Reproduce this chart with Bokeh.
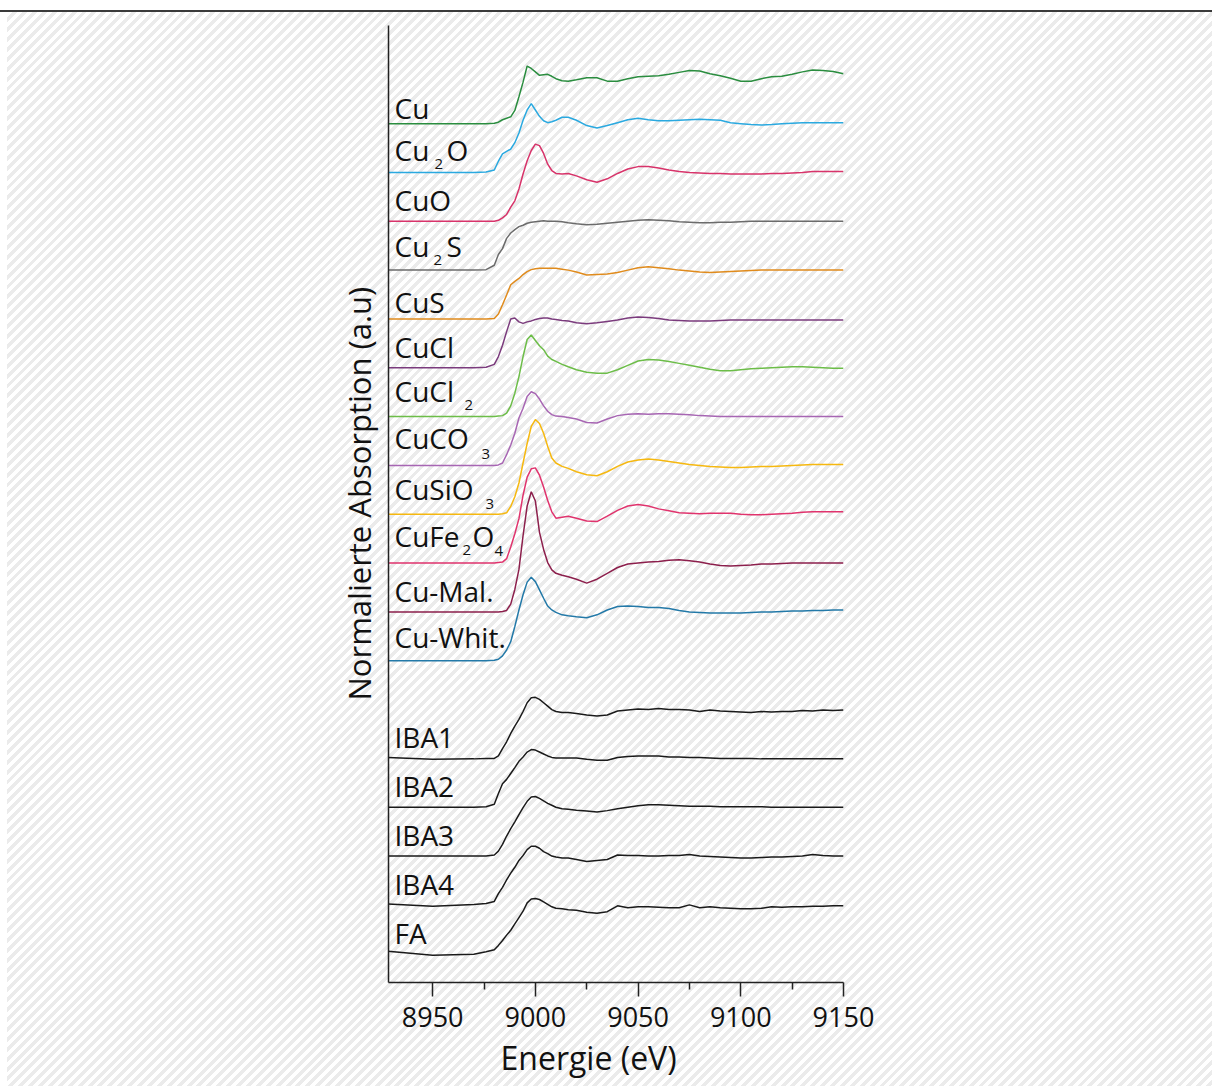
from bokeh.plotting import figure
from bokeh.models import Range1d, FixedTicker, ColumnDataSource, Title
from bokeh.core.properties import value
from bokeh.embed import file_html
from bokeh.resources import INLINE

# ---------------- data (normalised absorption) ----------------
energy = [8928, 8950, 8970, 8976, 8980, 8982, 8984, 8986, 8988, 8990, 8992, 8994, 8996, 8998,
          9000, 9002, 9004, 9006, 9008, 9010, 9013, 9016, 9020, 9025, 9030, 9035, 9040, 9045,
          9050, 9055, 9060, 9065, 9070, 9075, 9080, 9085, 9090, 9095, 9100, 9105, 9110, 9115,
          9120, 9125, 9130, 9135, 9140, 9145, 9150]

cu = [0, 0, 0, 0, 0.01, 0.03, 0.08, 0.11, 0.14, 0.27, 0.55, 0.85, 1.18, 1.13, 1.06, 0.99, 1.00, 1.01, 0.97, 0.92,
      0.88, 0.87, 0.90, 0.94, 0.94, 0.87, 0.87, 0.92, 0.96, 0.97, 0.98, 1.01, 1.05, 1.09, 1.08, 1.02, 0.98, 0.93,
      0.87, 0.87, 0.92, 0.96, 0.97, 1.01, 1.06, 1.10, 1.09, 1.07, 1.02]
cu2o = [0, 0, 0, 0.01, 0.05, 0.23, 0.38, 0.43, 0.48, 0.61, 0.81, 1.07, 1.28, 1.41, 1.28, 1.15, 1.06, 1.02, 1.04, 1.07,
        1.13, 1.13, 1.07, 0.96, 0.91, 0.96, 1.02, 1.08, 1.11, 1.08, 1.06, 1.06, 1.07, 1.08, 1.09, 1.08, 1.07, 1.02,
        1.00, 0.98, 0.97, 0.98, 1.00, 1.01, 1.02, 1.02, 1.02, 1.02, 1.02]
cuo = [0, 0, 0, 0, 0, 0.02, 0.07, 0.14, 0.29, 0.42, 0.66, 0.97, 1.24, 1.45, 1.58, 1.55, 1.39, 1.17, 1.04, 0.98,
       0.97, 0.98, 0.93, 0.85, 0.80, 0.87, 0.98, 1.07, 1.12, 1.12, 1.09, 1.05, 1.02, 1.00, 0.99, 0.98, 0.98, 0.97,
       0.97, 0.97, 0.97, 0.98, 0.98, 0.99, 1.00, 1.02, 1.02, 1.02, 1.02]
cu2s = [0, 0, 0, 0.01, 0.10, 0.32, 0.44, 0.65, 0.76, 0.83, 0.89, 0.92, 0.96, 0.98, 0.99, 1.00, 1.01, 1.00, 1.00, 1.00,
        0.99, 0.97, 0.95, 0.93, 0.94, 0.96, 0.98, 1.00, 1.02, 1.03, 1.02, 1.01, 0.99, 0.98, 0.97, 0.97, 0.98, 0.98,
        0.99, 1.00, 1.00, 1.00, 1.00, 1.00, 1.00, 1.00, 1.00, 1.00, 1.00]
cus = [0, 0, 0, 0, 0.01, 0.10, 0.29, 0.49, 0.70, 0.77, 0.83, 0.91, 0.97, 1.01, 1.03, 1.04, 1.04, 1.04, 1.04, 1.04,
       1.02, 1.00, 0.96, 0.90, 0.91, 0.92, 0.95, 1.00, 1.05, 1.07, 1.05, 1.03, 1.00, 0.98, 0.96, 0.95, 0.96, 0.97,
       0.98, 0.99, 1.00, 1.00, 1.00, 1.00, 1.00, 1.00, 1.00, 1.00, 1.00]
cucl = [0, 0, 0, 0.01, 0.07, 0.23, 0.46, 0.74, 1.00, 1.02, 0.94, 0.91, 0.94, 0.96, 0.99, 1.01, 1.02, 1.02, 1.00, 0.99,
        0.97, 0.96, 0.92, 0.90, 0.92, 0.95, 0.98, 1.02, 1.04, 1.03, 1.01, 0.98, 0.97, 0.96, 0.96, 0.96, 0.97, 0.98,
        0.98, 0.98, 0.98, 0.98, 0.98, 0.98, 0.98, 0.98, 0.98, 0.98, 0.98]
cucl2 = [0, 0, 0, 0, 0, 0.01, 0.02, 0.07, 0.22, 0.48, 0.82, 1.23, 1.58, 1.67, 1.56, 1.45, 1.37, 1.24, 1.17, 1.13,
         1.07, 1.02, 0.96, 0.91, 0.89, 0.89, 0.96, 1.05, 1.14, 1.17, 1.16, 1.13, 1.09, 1.05, 1.01, 0.97, 0.94, 0.94,
         0.96, 0.98, 0.99, 1.00, 1.01, 1.02, 1.02, 1.01, 1.00, 0.99, 0.99]
cuco3 = [0, 0, 0, 0, 0, 0.01, 0.05, 0.22, 0.42, 0.66, 0.97, 1.17, 1.41, 1.51, 1.47, 1.36, 1.22, 1.11, 1.04, 1.01,
         1.00, 0.98, 0.95, 0.88, 0.87, 0.95, 1.02, 1.05, 1.06, 1.05, 1.06, 1.06, 1.05, 1.04, 1.02, 1.01, 1.00, 1.00,
         1.00, 1.00, 1.00, 1.00, 1.00, 1.00, 1.00, 1.00, 1.00, 1.00, 1.00]
cusio3 = [0, 0, 0, 0, 0, 0, 0.01, 0.03, 0.16, 0.36, 0.64, 1.05, 1.45, 1.80, 1.94, 1.86, 1.66, 1.39, 1.15, 1.05,
          0.98, 0.94, 0.87, 0.81, 0.79, 0.87, 0.98, 1.07, 1.11, 1.13, 1.11, 1.08, 1.05, 1.02, 1.00, 0.98, 0.97, 0.96,
          0.96, 0.97, 0.98, 0.98, 0.99, 1.00, 1.01, 1.02, 1.02, 1.02, 1.02]
cufe2o4 = [0, 0, 0, 0, 0, 0.01, 0.02, 0.09, 0.33, 0.60, 0.91, 1.39, 1.76, 1.93, 1.95, 1.80, 1.56, 1.28, 1.05, 0.92,
           0.94, 0.96, 0.92, 0.86, 0.85, 0.96, 1.08, 1.17, 1.20, 1.17, 1.11, 1.07, 1.03, 1.02, 1.01, 1.02, 1.02, 1.02,
           1.00, 0.99, 0.99, 1.00, 1.01, 1.02, 1.04, 1.05, 1.05, 1.05, 1.05]
cu_mal = [0, 0, 0, 0, 0, 0, 0.01, 0.03, 0.16, 0.46, 0.87, 1.56, 2.17, 2.46, 2.27, 1.63, 1.28, 1.01, 0.86, 0.79,
          0.75, 0.72, 0.67, 0.59, 0.67, 0.79, 0.91, 0.98, 1.00, 1.02, 1.03, 1.06, 1.07, 1.05, 1.02, 0.98, 0.95, 0.94,
          0.95, 0.96, 0.98, 0.98, 0.99, 1.00, 1.00, 1.00, 1.00, 1.00, 1.00]
cu_whit = [0, 0, 0, 0, 0.01, 0.03, 0.10, 0.22, 0.39, 0.70, 1.04, 1.35, 1.61, 1.71, 1.62, 1.45, 1.28, 1.12, 1.04, 0.99,
           0.94, 0.92, 0.90, 0.88, 0.94, 1.04, 1.11, 1.12, 1.11, 1.09, 1.09, 1.07, 1.03, 1.00, 0.99, 0.98, 0.98, 0.98,
           0.98, 0.99, 1.00, 1.00, 1.01, 1.02, 1.02, 1.03, 1.03, 1.04, 1.04]
iba1 = [0.02, -0.02, -0.01, 0, 0, 0.05, 0.20, 0.34, 0.51, 0.66, 0.80, 0.96, 1.14, 1.24, 1.25, 1.21, 1.14, 1.07, 1.00, 0.96,
        0.94, 0.94, 0.92, 0.89, 0.87, 0.89, 0.97, 0.99, 1.01, 1.00, 1.02, 1.00, 1.00, 0.99, 0.96, 0.99, 0.97, 0.96,
        0.95, 0.94, 0.96, 0.95, 0.96, 0.96, 0.98, 0.97, 0.99, 0.98, 0.99]
iba2 = [0, 0, 0, 0.01, 0.06, 0.28, 0.48, 0.57, 0.69, 0.81, 0.94, 1.03, 1.13, 1.18, 1.17, 1.13, 1.09, 1.05, 1.02, 1.01,
        1.01, 1.01, 1.01, 0.98, 0.96, 0.96, 1.02, 1.04, 1.05, 1.05, 1.05, 1.03, 1.03, 1.02, 1.02, 1.01, 1.00, 1.00,
        1.00, 1.00, 0.99, 0.99, 0.99, 0.99, 0.99, 0.99, 0.99, 0.99, 0.99]
iba3 = [0, 0, 0, 0, 0.02, 0.10, 0.24, 0.41, 0.56, 0.70, 0.85, 0.99, 1.12, 1.21, 1.22, 1.18, 1.13, 1.08, 1.04, 1.00,
        0.97, 0.96, 0.94, 0.92, 0.90, 0.93, 0.97, 1.00, 1.03, 1.05, 1.05, 1.04, 1.03, 1.02, 1.02, 1.02, 1.01, 1.01,
        1.01, 1.01, 1.01, 1.00, 1.00, 1.00, 1.00, 1.00, 1.00, 1.00, 1.00]
iba4 = [0.02, -0.03, 0.01, 0.03, 0.07, 0.23, 0.36, 0.51, 0.65, 0.77, 0.91, 1.01, 1.13, 1.20, 1.20, 1.16, 1.09, 1.05, 1.00, 0.98,
        0.96, 0.96, 0.93, 0.89, 0.91, 0.93, 1.02, 1.01, 1.01, 1.00, 1.00, 1.01, 1.01, 1.03, 1.00, 0.99, 0.98, 0.97,
        0.96, 0.96, 0.97, 0.98, 0.98, 0.99, 1.00, 1.03, 1.01, 1.00, 1.00]
fa = [0.05, -0.03, -0.01, 0.04, 0.08, 0.17, 0.27, 0.38, 0.48, 0.61, 0.74, 0.87, 1.04, 1.12, 1.13, 1.11, 1.06, 1.01, 0.96, 0.93,
      0.92, 0.90, 0.89, 0.85, 0.83, 0.86, 0.98, 0.94, 0.96, 0.96, 0.95, 0.94, 0.94, 1.00, 0.94, 0.96, 0.94, 0.93,
      0.92, 0.92, 0.93, 0.96, 0.95, 0.96, 0.96, 0.97, 0.97, 0.98, 0.98]

names = ["Cu", "Cu₂O", "CuO", "Cu₂S", "CuS", "CuCl", "CuCl₂", "CuCO₃", "CuSiO₃", "CuFe₂O₄",
         "Cu-Mal.", "Cu-Whit.", "IBA1", "IBA2", "IBA3", "IBA4", "FA"]
spectra = [cu, cu2o, cuo, cu2s, cus, cucl, cucl2, cuco3, cusio3, cufe2o4,
           cu_mal, cu_whit, iba1, iba2, iba3, iba4, fa]
stack_offsets = [17, 16, 15, 14, 13, 12, 11, 10, 9, 8, 7, 6, 4, 3, 2, 1, 0]
colors = ["#2a8d3f", "#2aa9e0", "#d8336a", "#6b6b6b", "#e08b1c", "#7b3b7d", "#6cbd48", "#a766b3",
          "#f6b80f", "#e0336d", "#8c1f4c", "#2379a8",
          "#1a1a1a", "#1a1a1a", "#1a1a1a", "#1a1a1a", "#1a1a1a"]

x_ticks = [8950, 9000, 9050, 9100, 9150]
x_minor_ticks = [8975, 9025, 9075, 9125]
x_title = "Energie (eV)"
y_title = "Normalierte Absorption (a.u)"

for s in spectra:
    assert len(s) == len(energy), len(s)

# -------- label typesetting (text pieces, px offsets, subscript flag) --------
label_parts = {
    "Cu₂O": [("Cu", 0, 0, False), ("2", 40, 14, True), ("O", 52, 0, False)],
    "Cu₂S": [("Cu", 0, 0, False), ("2", 39, 14, True), ("S", 52, 0, False)],
    "CuCl₂": [("CuCl", 0, 0, False), ("2", 70, 14, True)],
    "CuCO₃": [("CuCO", 0, 0, False), ("3", 87, 16, True)],
    "CuSiO₃": [("CuSiO", 0, 0, False), ("3", 91, 15, True)],
    "CuFe₂O₄": [("CuFe", 0, 0, False), ("2", 68, 14, True), ("O", 78, 0, False), ("4", 100, 15, True)],
}
# small vertical nudges (px, down positive) of individual labels
label_nudge = {"Cu": 6, "CuO": 1, "Cu₂S": -2, "CuS": 5, "CuCl": 1, "CuCl₂": -4, "CuCO₃": -5,
               "CuSiO₃": -3, "CuFe₂O₄": -5, "Cu-Mal.": 1, "Cu-Whit.": -2,
               "IBA1": 1, "IBA2": 1, "IBA3": 1, "IBA4": 1, "FA": 1}

FONT = "Open Sans"
X0, X1 = 8928.5, 9150
Y0, Y1 = -0.59, 19.01

p = figure(frame_width=455, frame_height=957,
           x_range=Range1d(X0, X1), y_range=Range1d(Y0, Y1),
           output_backend="svg", toolbar_location=None,
           min_border_left=388, min_border_right=369, min_border_top=25, min_border_bottom=104)

p.background_fill_color = None
p.border_fill_color = None
p.outline_line_color = None
p.grid.visible = False
p.styles = {
    "background-color": "#ffffff",
    "background-image": ("linear-gradient(to bottom, #ffffff 0px, #ffffff 10.5px, #3a3a3a 10.5px, "
                         "#3a3a3a 12.5px, rgba(255,255,255,0) 12.5px), "
                         "linear-gradient(to right, #ffffff 0px, #ffffff 7px, rgba(255,255,255,0) 7px), "
                         "repeating-linear-gradient(135deg, #ffffff 0px, #ffffff 3.5px, "
                         "#ebebeb 3.5px, #ebebeb 7px)"),
}

# x axis
xa = p.xaxis[0]
xa.ticker = FixedTicker(ticks=x_ticks, minor_ticks=x_minor_ticks)
xa.axis_line_color = "#222222"
xa.axis_line_width = 1.5
xa.major_tick_line_color = "#222222"
xa.major_tick_line_width = 1.5
xa.minor_tick_line_color = "#222222"
xa.minor_tick_line_width = 1.5
xa.major_tick_in = 0
xa.major_tick_out = 14
xa.minor_tick_in = 0
xa.minor_tick_out = 7
xa.major_label_standoff = 10
xa.major_label_text_font = FONT
xa.major_label_text_font_size = "27px"
xa.major_label_text_color = "#111111"

# y axis: line only
ya = p.yaxis[0]
ya.ticker = FixedTicker(ticks=[])
ya.axis_line_color = "#222222"
ya.axis_line_width = 1.5
ya.major_tick_out = 0
ya.major_tick_in = 0
ya.minor_tick_out = 0
ya.minor_tick_in = 0
ya.major_label_standoff = 0

# curves
for vals, off, col in zip(spectra, stack_offsets, colors):
    p.line(energy, [v + off for v in vals], line_color=col, line_width=1.5)

# species labels
main = dict(x=[], y=[], text=[], dx=[], dy=[])
sub = dict(x=[], y=[], text=[], dx=[], dy=[])
for name, off in zip(names, stack_offsets):
    parts = label_parts.get(name, [(name, 0, 0, False)])
    nudge = label_nudge.get(name, 0)
    for txt, dx, dy, is_sub in parts:
        d = sub if is_sub else main
        d["x"].append(X0)
        d["y"].append(off + 0.45)
        d["text"].append(txt)
        d["dx"].append(6 + dx)
        d["dy"].append(dy + nudge)

p.text(x="x", y="y", text="text", x_offset="dx", y_offset="dy", source=ColumnDataSource(main),
       text_font=value(FONT), text_font_size="28px", text_color="#111111",
       text_align="left", text_baseline="middle")
p.text(x="x", y="y", text="text", x_offset="dx", y_offset="dy", source=ColumnDataSource(sub),
       text_font=value(FONT), text_font_size="15px", text_color="#111111",
       text_align="left", text_baseline="middle")

# axis titles
p.add_layout(Title(text=x_title, align="left", offset=112, standoff=9,
                   text_font=FONT, text_font_size="32px", text_font_style="normal",
                   text_color="#111111"), "below")
p.add_layout(Title(text=y_title, align="left", offset=282, standoff=17,
                   text_font=FONT, text_font_size="31px", text_font_style="normal",
                   text_color="#111111"), "left")

open("out.html", "w").write(file_html(p, INLINE))
